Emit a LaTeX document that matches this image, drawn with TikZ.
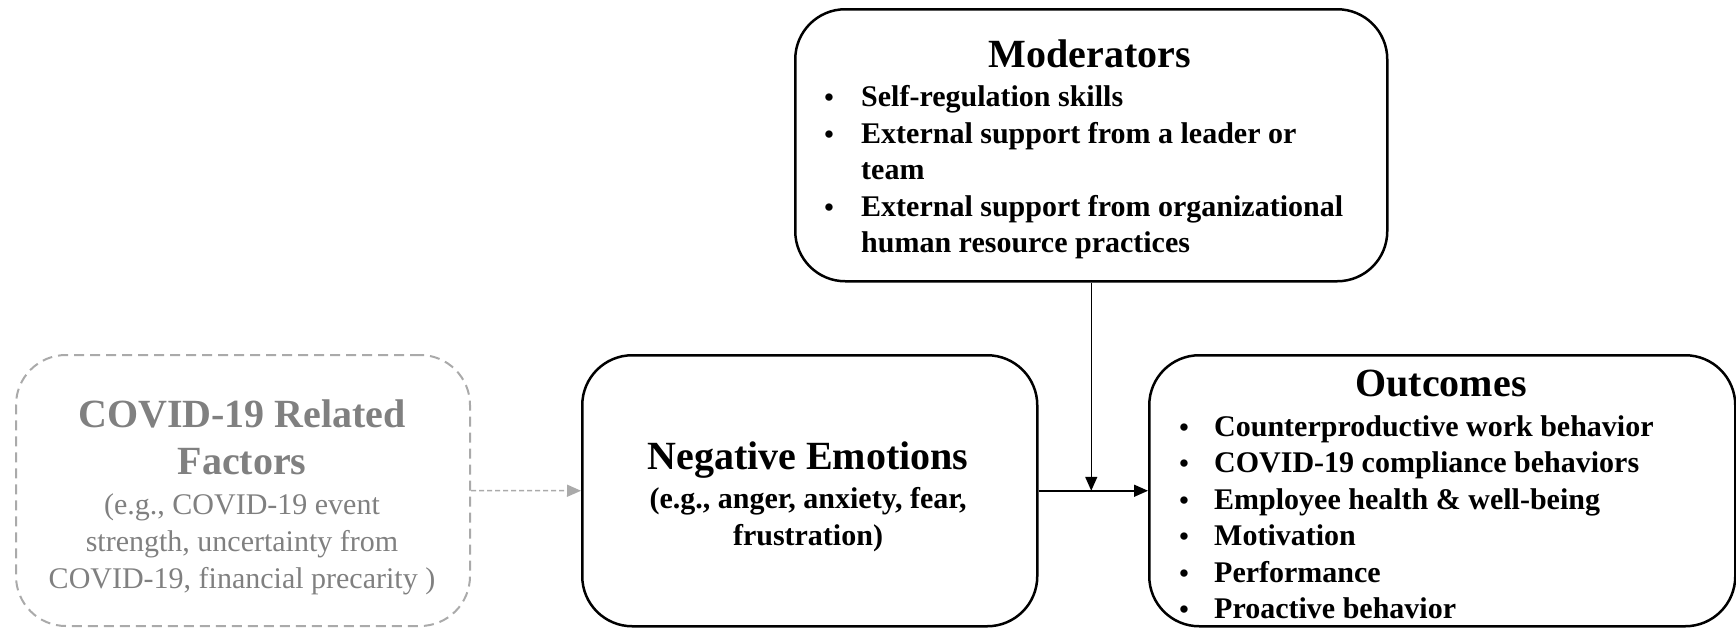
\documentclass[tikz,border=0pt]{standalone}
\usepackage{fontspec}
\setmainfont{Liberation Serif}
\usetikzlibrary{arrows.meta}
\definecolor{gtext}{RGB}{128,128,128}
\definecolor{gline}{RGB}{170,170,170}
\tikzset{
  box/.style={draw, line width=2.5pt, rounded corners=50pt, minimum width=#1, minimum height=271pt, anchor=north west, inner sep=0},
  dbox/.style={draw=gline, line width=2pt, dash pattern=on 10pt off 6pt, rounded corners=50pt, minimum width=#1, minimum height=271pt, anchor=north west, inner sep=0},
  ttl/.style={anchor=base, inner sep=0, font=\fontsize{40}{46}\selectfont\bfseries},
  sub/.style={anchor=base, inner sep=0, font=\fontsize{30}{36}\selectfont\bfseries},
  gttl/.style={ttl, text=gtext},
  gsub/.style={anchor=base, inner sep=0, font=\fontsize{30}{36}\selectfont, text=gtext},
  bl/.style={anchor=base, inner sep=0, font=\fontsize{27}{36}\selectfont\bfseries},
  it/.style={anchor=base west, inner sep=0, font=\fontsize{30}{36}\selectfont\bfseries},
  arr/.style={line width=1.5pt, -{Triangle[length=14pt,width=12pt]}},
  darr/.style={draw=gline, line width=1.5pt, dash pattern=on 5pt off 3pt, -{Triangle[length=14pt,width=12pt,fill=gline]}}
}
\begin{document}
\begin{tikzpicture}[x=1pt,y=-1pt]
\useasboundingbox (0,0) rectangle (1736,627);
% boxes
\node[box=592pt, minimum height=272pt] (mod) at (794,8) {};
\node[dbox=454pt] (cov) at (15,354) {};
\node[box=455pt] (neg) at (581,354) {};
\node[box=586pt] (out) at (1148,354) {};
% moderators text
\node[ttl] (modt) at (1090,67) {Moderators};
\node[bl] (mb1) at (829,106) {•};
\node[it] (m1) at (861,106) {Self-regulation skills};
\node[bl] (mb2) at (829,143) {•};
\node[it] (m2) at (861,143) {External support from a leader or};
\node[it] (m3) at (861,179) {team};
\node[bl] (mb3) at (829,216) {•};
\node[it] (m4) at (861,216) {External support from organizational};
\node[it] (m5) at (861,252) {human resource practices};
% covid text
\node[gttl] (covt1) at (242,427) {COVID-19 Related};
\node[gttl] (covt2) at (242,474) {Factors};
\node[gsub] (cov1) at (242,514) {(e.g., COVID-19 event};
\node[gsub] (cov2) at (242,551) {strength, uncertainty from};
\node[gsub] (cov3) at (242,588) {COVID-19, financial precarity )};
% negative text
\node[ttl] (negt) at (808,469) {Negative Emotions};
\node[sub] (neg1) at (808,508) {(e.g., anger, anxiety, fear,};
\node[sub] (neg2) at (808,545) {frustration)};
% outcomes text
\node[ttl] (outt) at (1441,396) {Outcomes};
\node[bl] (ob1) at (1184,436) {•};
\node[it] (o1) at (1214,436) {Counterproductive work behavior};
\node[bl] (ob2) at (1184,472) {•};
\node[it] (o2) at (1214,472) {COVID-19 compliance behaviors};
\node[bl] (ob3) at (1184,509) {•};
\node[it] (o3) at (1214,509) {Employee health \& well-being};
\node[bl] (ob4) at (1184,545) {•};
\node[it] (o4) at (1214,545) {Motivation};
\node[bl] (ob5) at (1184,582) {•};
\node[it] (o5) at (1214,582) {Performance};
\node[bl] (ob6) at (1184,618) {•};
\node[it] (o6) at (1214,618) {Proactive behavior};
% connectors
\coordinate (j) at (mod.south |- neg.east);
\draw[darr] (cov.east) -- (neg.west);
\draw[arr] (neg.east) -- (out.west);
\draw[arr] (mod.south) -- (j);
\end{tikzpicture}
\end{document}
